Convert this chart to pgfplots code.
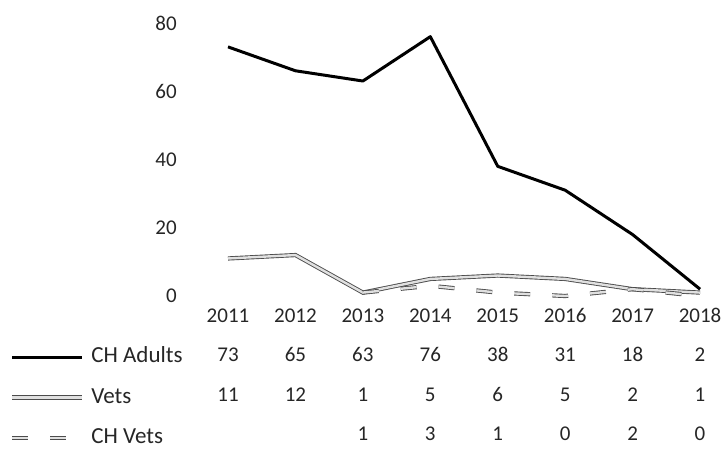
\documentclass[border=0pt]{standalone}
\usepackage{pgfplots}
\pgfplotsset{compat=1.18}
\usepackage{fontspec}
\setmainfont{Carlito}
\begin{document}
\begin{tikzpicture}
\begin{axis}[
  name=ax,
  scale only axis,
  width=526pt, height=273pt,
  xmin=-0.5, xmax=7.3,
  ymin=0, ymax=80,
  axis line style={draw=none},
  tick style={draw=none},
  ytick={0,20,40,60,80},
  xtick={0,...,7},
  xticklabels={{2011\\73\\11\\\phantom{0}},{2012\\65\\12\\\phantom{0}},{2013\\63\\1\\1},{2014\\76\\5\\3},{2015\\38\\6\\1},{2016\\31\\5\\0},{2017\\18\\2\\2},{2018\\2\\1\\0}},
  xticklabel style={align=center, font=\fontsize{21}{39.5}\selectfont, anchor=base, yshift=-144.6pt, text=black!85},
  yticklabel style={font=\fontsize{21}{25}\selectfont, xshift=-14pt, text=black!85},
  /pgf/number format/assume math mode=true,
  clip=false,
  legend style={at={(-0.3504,-0.188)}, anchor=north west, draw=none, fill=none, inner sep=0pt,
     font=\fontsize{23}{28}\selectfont, text=black!85, row sep=21.5pt,
     nodes={inner sep=0pt, text height=15pt, text depth=4pt}},
  legend image code/.code={\draw[#1] (0pt,0pt) -- (70pt,0pt);},
  legend cell align=left,
]
\addplot[black, line width=3pt, line join=round] coordinates {(0,73) (1,66) (2,63) (3,76) (4,38) (5,31) (6,18) (7,2)};
\addlegendentry{\hspace{7pt}CH Adults}
\addplot[draw=black!70, double=black!12, line width=0.9pt, double distance=2.4pt] coordinates {(0,11) (1,12) (2,1) (3,5) (4,6) (5,5) (6,2) (7,1)};
\addlegendentry{\hspace{7pt}Vets}
\addplot[draw=black!70, double=black!12, line width=0.9pt, double distance=2.4pt, dash pattern=on 16pt off 22pt] coordinates {(2,1) (3,3) (4,1) (5,0) (6,2) (7,0)};
\addlegendentry{\hspace{7pt}CH Vets}
\end{axis}
\pgfresetboundingbox
\path[use as bounding box, shift={(ax.south west)}] (-194.3pt,-152pt) rectangle (526.7pt,296pt);
\end{tikzpicture}
\end{document}
